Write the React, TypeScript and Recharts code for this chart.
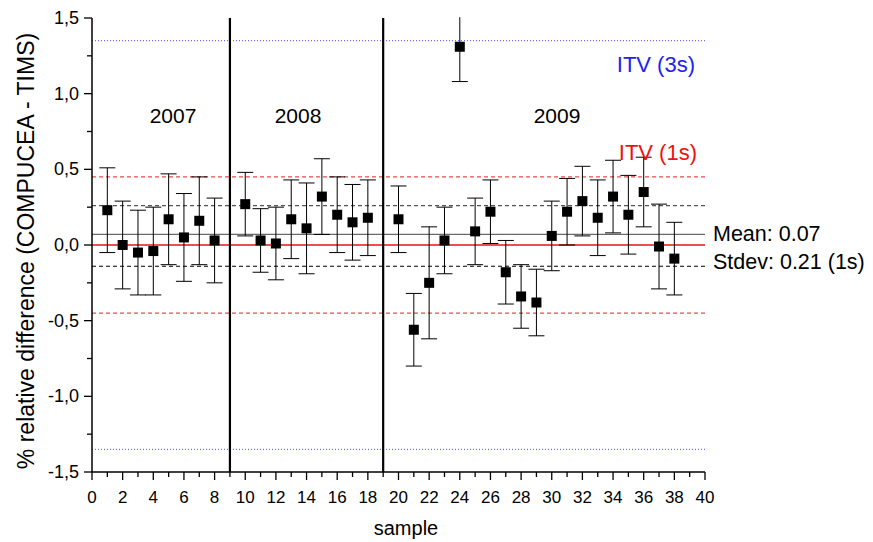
import React from 'react';
import { ComposedChart, Scatter, ErrorBar, XAxis, YAxis, ReferenceLine } from 'recharts';

// sample numbers (2007: 1-8, 2008: 10-18, 2009: 20-38)
const sampleNo = [
  1, 2, 3, 4, 5, 6, 7, 8,
  10, 11, 12, 13, 14, 15, 16, 17, 18,
  20, 21, 22, 23, 24, 25, 26, 27, 28, 29, 30, 31, 32, 33, 34, 35, 36, 37, 38,
];
// % relative difference (COMPUCEA - TIMS)
const relDiff = [
  0.23, 0.0, -0.05, -0.04, 0.17, 0.05, 0.16, 0.03,
  0.27, 0.03, 0.01, 0.17, 0.11, 0.32, 0.2, 0.15, 0.18,
  0.17, -0.56, -0.25, 0.03, 1.31, 0.09, 0.22, -0.18, -0.34, -0.38, 0.06, 0.22, 0.29, 0.18, 0.32, 0.2, 0.35, -0.01, -0.09,
];
const relErr = [
  0.28, 0.29, 0.28, 0.29, 0.3, 0.29, 0.29, 0.28,
  0.21, 0.21, 0.24, 0.26, 0.3, 0.25, 0.25, 0.25, 0.25,
  0.22, 0.24, 0.37, 0.22, 0.23, 0.22, 0.21, 0.21, 0.21, 0.22, 0.23, 0.22, 0.23, 0.25, 0.24, 0.26, 0.23, 0.28, 0.24,
];

const meanValue = 0.07;
const stdevUpper = 0.26;
const stdevLower = -0.14;
const itv1s = [0.45, -0.45];
const itv3s = [1.35, -1.35];
const yearBreaks = [9, 19];
const yearLabels = ['2007', '2008', '2009'];

const xTicks = [0, 1, 2, 3, 4, 5, 6, 7, 8, 9, 10, 11, 12, 13, 14, 15, 16, 17, 18, 19, 20,
  21, 22, 23, 24, 25, 26, 27, 28, 29, 30, 31, 32, 33, 34, 35, 36, 37, 38, 39, 40];
const yTicks = [-1.5, -1.25, -1, -0.75, -0.5, -0.25, 0, 0.25, 0.5, 0.75, 1, 1.25, 1.5];

const data = sampleNo.map((x, i) => ({ x, y: relDiff[i], err: relErr[i] }));

const FONT = '"Liberation Sans", Arial, sans-serif';

const majorX = (v: number) => v % 2 === 0;
const majorY = (v: number) => Math.abs(v * 2 - Math.round(v * 2)) < 1e-6;
const fmtY = (v: number) => v.toFixed(1).replace('.', ',');

const BottomTick = ({ x, y, payload }: any) => {
  const major = majorX(payload.value);
  return (
    <g>
      <line x1={x} y1={y} x2={x} y2={y + (major ? 8 : 5)} stroke="#000" strokeWidth={1.3} />
      {major && (
        <text x={x} y={y + 25} textAnchor="middle" dominantBaseline="central" fontSize={17} fontFamily={FONT} fill="#000">
          {payload.value}
        </text>
      )}
    </g>
  );
};

const TopTick = ({ x, y, payload }: any) => (
  <line x1={x} y1={y} x2={x} y2={y + (majorX(payload.value) ? 5 : 3)} stroke="#000" strokeWidth={1} />
);

const LeftTick = ({ x, y, payload }: any) => {
  const major = majorY(payload.value);
  return (
    <g>
      <line x1={x} y1={y} x2={x - (major ? 8 : 5)} y2={y} stroke="#000" strokeWidth={1.3} />
      {major && (
        <text x={x - 13} y={y} textAnchor="end" dominantBaseline="central" fontSize={18} fontFamily={FONT} fill="#000">
          {fmtY(payload.value)}
        </text>
      )}
    </g>
  );
};

const RightTick = ({ x, y, payload }: any) => (
  <line x1={x} y1={y} x2={x - (majorY(payload.value) ? 5 : 3)} y2={y} stroke="#000" strokeWidth={1} />
);

const Square = (p: any) => <rect x={p.cx - 5} y={p.cy - 5} width={10} height={10} fill="#000" />;

export default function App() {
  const axisLine = { stroke: '#000', strokeWidth: 1.5 };
  return (
    <div style={{ position: 'absolute', left: 0, top: 0, width: 873, height: 542, background: '#fff' }}>
      <ComposedChart width={873} height={542} data={data} margin={{ top: 18, right: 168, bottom: 0, left: 0 }}>
        <XAxis
          dataKey="x"
          type="number"
          domain={[0, 40]}
          ticks={xTicks}
          interval={0}
          height={70}
          tickSize={0}
          tickMargin={0}
          tickLine={false}
          axisLine={axisLine}
          tick={(p: any) => <BottomTick {...p} />}
          allowDataOverflow
        />
        <XAxis
          xAxisId="top"
          orientation="top"
          type="number"
          domain={[0, 40]}
          ticks={xTicks}
          interval={0}
          height={0}
          mirror
          tickSize={0}
          tickMargin={0}
          tickLine={false}
          axisLine={axisLine}
          tick={(p: any) => <TopTick {...p} />}
          allowDataOverflow
        />
        <YAxis
          type="number"
          domain={[-1.5, 1.5]}
          ticks={yTicks}
          interval={0}
          width={92}
          tickSize={0}
          tickMargin={0}
          tickLine={false}
          axisLine={axisLine}
          tick={(p: any) => <LeftTick {...p} />}
          allowDataOverflow
        />
        <YAxis
          yAxisId="right"
          orientation="right"
          type="number"
          domain={[-1.5, 1.5]}
          ticks={yTicks}
          interval={0}
          width={0}
          mirror
          tickSize={0}
          tickMargin={0}
          tickLine={false}
          axisLine={axisLine}
          tick={(p: any) => <RightTick {...p} />}
          allowDataOverflow
        />

        {itv3s.map((v) => (
          <ReferenceLine key={`itv3-${v}`} y={v} stroke="#4a4aff" strokeWidth={1} strokeDasharray="1 2" />
        ))}
        {itv1s.map((v) => (
          <ReferenceLine key={`itv1-${v}`} y={v} stroke="#e02020" strokeWidth={1} strokeDasharray="4 3" />
        ))}
        <ReferenceLine y={stdevUpper} stroke="#555" strokeWidth={1.3} strokeDasharray="4 3" />
        <ReferenceLine y={stdevLower} stroke="#000" strokeWidth={1.1} strokeDasharray="4 3" />
        <ReferenceLine y={0} stroke="#ee1111" strokeWidth={1.3} />
        <ReferenceLine y={meanValue} stroke="#6a6a6a" strokeWidth={1.3} />
        {yearBreaks.map((v) => (
          <ReferenceLine key={`yr-${v}`} x={v} stroke="#000" strokeWidth={2.2} />
        ))}

        <Scatter dataKey="y" fill="#000" shape={Square} isAnimationActive={false}>
          <ErrorBar dataKey="err" direction="y" width={8} stroke="#000" strokeWidth={1} />
        </Scatter>
      </ComposedChart>

      <svg width={873} height={542} style={{ position: 'absolute', left: 0, top: 0, pointerEvents: 'none' }} fontFamily={FONT}>
        {/* mask error bars running past the top of the frame */}
        <rect x={92} y={0} width={615} height={17.2} fill="#fff" />
        <text x={173} y={115} textAnchor="middle" dominantBaseline="central" fontSize={21}>{yearLabels[0]}</text>
        <text x={298} y={115} textAnchor="middle" dominantBaseline="central" fontSize={21}>{yearLabels[1]}</text>
        <text x={557} y={115} textAnchor="middle" dominantBaseline="central" fontSize={21}>{yearLabels[2]}</text>
        <text x={695} y={64} textAnchor="end" dominantBaseline="central" fontSize={22} fill="#2222ee">ITV (3s)</text>
        <text x={697} y={152} textAnchor="end" dominantBaseline="central" fontSize={22} fill="#ee1111">ITV (1s)</text>
        <text x={713} y={234} dominantBaseline="central" fontSize={21.5}>Mean: 0.07</text>
        <text x={713} y={262} dominantBaseline="central" fontSize={21.5}>Stdev: 0.21 (1s)</text>
        <text x={406} y={528} textAnchor="middle" dominantBaseline="central" fontSize={20}>sample</text>
        <text
          x={26}
          y={251}
          textAnchor="middle"
          dominantBaseline="central"
          fontSize={23}
          transform="rotate(-90 26 251)"
        >
          % relative difference (COMPUCEA - TIMS)
        </text>
      </svg>
    </div>
  );
}
